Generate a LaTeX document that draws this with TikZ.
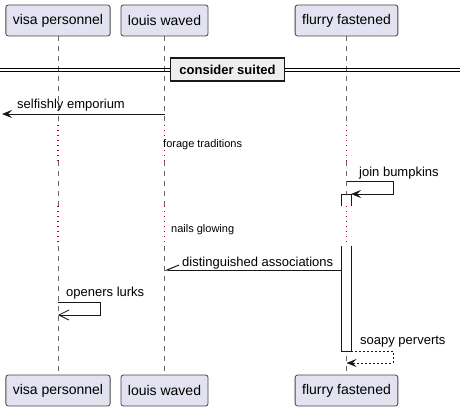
\documentclass[tikz,border=0pt]{standalone}
\usepackage{fontspec}
\setmainfont{Liberation Sans}
\usetikzlibrary{arrows.meta}
\providecommand{\Ytop}{20.5}
\providecommand{\Ybot}{390.5}
\providecommand{\Ydiv}{69.5}
\providecommand{\Ylost}{114}
\providecommand{\YdelayA}{125}
\providecommand{\YdelayAend}{161}
\providecommand{\Yjoin}{181}
\providecommand{\YdelayB}{206}
\providecommand{\YdelayBend}{246}
\providecommand{\Yassoc}{270}
\providecommand{\Yopen}{302}
\providecommand{\Ysoapy}{351}
\definecolor{partfill}{HTML}{E2E2F0}
\definecolor{partline}{HTML}{181818}
\definecolor{delayred}{HTML}{A80036}
\definecolor{divfill}{HTML}{EEEEEE}
\tikzset{
  partbox/.style={rectangle, rounded corners=2.5pt, draw=partline!80, line width=0.8pt,
                  fill=partfill, font=\fontsize{14}{16}\selectfont,
                  inner xsep=7pt, minimum height=31pt},
  divbox/.style={rectangle, draw=black!90, line width=1.8pt, fill=divfill,
                 font=\fontsize{13}{15}\selectfont\bfseries,
                 minimum width=114pt, minimum height=23pt, inner sep=0pt},
  lifeline/.style={draw=black!60, line width=0.8pt, dash pattern=on 5pt off 5pt},
  delayline/.style={draw=delayred, line width=1.1pt, dash pattern=on 1pt off 4pt},
  actbar/.style={draw=partline, line width=1pt, fill=white},
  msg/.style={draw=partline, line width=1pt,
              -{Stealth[length=10pt, width=8pt, inset=4pt]}},
  retmsg/.style={msg, dash pattern=on 2pt off 2pt},
  openmsg/.style={draw=partline, line width=0.8pt,
                  -{Straight Barb[length=10pt, width=10pt]}},
  halfmsg/.style={draw=partline, line width=1pt,
                  -{Straight Barb[right, length=12pt, width=10pt]}},
  msgtext/.style={font=\fontsize{13}{15}\selectfont, anchor=west, inner sep=0pt},
  delaytext/.style={font=\fontsize{11}{13}\selectfont, anchor=west, inner sep=0pt}
}
\begin{document}
\begin{tikzpicture}[x=1pt, y=-1pt]
\useasboundingbox (0,0) rectangle (460,412);

\foreach \pid/\px/\pl in {vp/58/visa personnel, lw/164.5/louis waved, ff/346.5/flurry fastened}{
  \node (\pid) [partbox] at (\px,\Ytop) {\pl};
  \node (\pid bot) [partbox] at (\px,\Ybot) {\pl};
}

% Lifelines, dotted during the delays
\foreach \pid in {vp,lw,ff}{
  \draw[lifeline] (\pid.south) -- (\pid.south |- 0,\YdelayA);
  \draw[delayline] (\pid.south |- 0,\YdelayA) -- (\pid.south |- 0,\YdelayAend);
  \draw[lifeline] (\pid.south |- 0,\YdelayAend) -- (\pid.south |- 0,\YdelayB);
  \draw[delayline] (\pid.south |- 0,\YdelayB) -- (\pid.south |- 0,\YdelayBend);
  \draw[lifeline] (\pid.south |- 0,\YdelayBend) -- (\pid bot.north);
}

% Divider
\draw[line width=0.9pt] (0,68) -- (460,68) (0,71.5) -- (460,71.5);
\node (div) [divbox] at (227.5,\Ydiv) {consider suited};

% Activation of flurry fastened
\draw[actbar] (341,\YdelayB) -- (341,194) -- (351,194) -- (351,\YdelayB);
\draw[actbar] (341,\YdelayBend) -- (341,\Ysoapy) -- (351,\Ysoapy) -- (351,\YdelayBend);

% Lost message
\coordinate (lost) at (2,\Ylost);
\draw[msg] (lw.south |- 0,\Ylost) -- (lost);
\node (lbllost) [msgtext] at (17,105) {selfishly emporium};

% Delays
\node (lbldelaya) [delaytext] at (163,145) {forage traditions};
\node (lbldelayb) [delaytext] at (171,230) {nails glowing};

% Self message -> activation
\draw[msg] (ff.south |- 0,\Yjoin) -- ++(47,0) -- ++(0,13) -- ++(-42.5,0);
\node (lbljoin) [msgtext] at (359,173) {join bumpkins};

% Activation -> louis waved
\draw[halfmsg] (ff.south |- 0,\Yassoc) ++(-5.5,0) -- (lw.south |- 0,\Yassoc);
\node (lblassoc) [msgtext] at (182,263) {distinguished associations};

% Self message on visa personnel
\draw[openmsg] (vp.south |- 0,\Yopen) -- ++(42,0) -- ++(0,13) -- ++(-42,0);
\node (lblopen) [msgtext] at (66,293) {openers lurks};

% Return
\draw[retmsg] (ff.south |- 0,\Ysoapy) ++(4.5,0) -- ++(42,0) -- ++(0,12) -- ++(-46.5,0);
\node (lblsoapy) [msgtext] at (360,342) {soapy perverts};

\end{tikzpicture}
\end{document}
